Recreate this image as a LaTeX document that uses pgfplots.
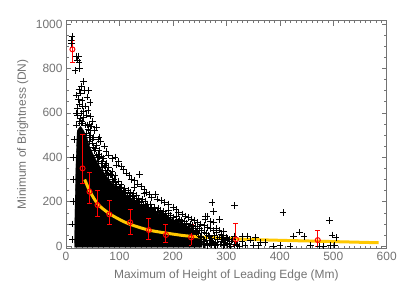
\documentclass[border=0pt]{standalone}
\usepackage{pgfplots}
\pgfplotsset{compat=1.18}
\usepackage{fontspec}
\setmainfont{Liberation Sans}
\definecolor{axgray}{gray}{0.45}
\definecolor{gold}{RGB}{255,200,0}
\begin{document}
\begin{tikzpicture}[font=\fontsize{12}{14}\selectfont]
\begin{axis}[
  scale only axis, width=320.7bp, height=227.6bp,
  at={(0,0)}, anchor=south west,
  xmin=0, xmax=600, ymin=-10, ymax=1015,
  xtick={0,100,...,600}, ytick={0,200,...,1000},
  minor x tick num=9, minor y tick num=3,
  tick align=inside, major tick length=5bp, minor tick length=2.5bp,
  axis line style={axgray, line width=0.6bp},
  every tick/.style={axgray, line width=0.5bp},
  tick label style={axgray, font=\fontsize{12}{14}\selectfont},
  /pgf/number format/assume math mode=true,
  /pgf/number format/1000 sep={},
  scaled ticks=false,
  xlabel={Maximum of Height of Leading Edge (Mm)},
  ylabel={Minimum of Brightness (DN)},
  xlabel style={at={(rel axis cs:0.5,-0.117)}, anchor=center, axgray},
  ylabel style={at={(rel axis cs:-0.135,0.5)}, anchor=center, axgray},
]
% dense core of the scatter
\addplot[fill=black, draw=black, line width=0.3bp] coordinates {
(21,520) (27,540) (33,520) (39,490) (44,450) (51,412) (59,375) (69,338)
(81,298) (95,262) (110,235) (125,210) (145,181) (165,157) (185,135)
(205,115) (222,97) (235,80) (245,60) (252,40) (256,15) (254,-5)
(16,-5) (17,200) (19,400) (21,520)} -- cycle;
% individual events
\addplot[only marks, mark=+, mark size=3.3bp, mark options={line width=0.6bp}, black] table {
x y
9 925
11 945
10 912
19 853
23 856
21 838
25 800
17 790
24 828
33 740
24 706
39 672
45 647
21 620
33 607
27 690
30 655
36 630
25 640
41 610
28 600
22 590
38 590
46 585
57 533
62 492
50 560
44 550
32 580
26 575
53 520
48 540
35 700
29 720
20 680
23 660
42 700
31 630
19 600
24 560
20 545
29 555
30 560
36 545
41 525
38 510
45 490
43 470
49 480
51 445
53 430
56 410
58 398
63 402
61 380
66 372
67 356
71 360
74 342
76 330
79 318
83 322
86 300
88 290
92 285
95 270
99 262
101 252
104 246
108 238
111 244
114 230
118 222
121 228
125 214
128 208
131 200
134 196
137 202
141 188
144 184
147 176
150 180
154 170
157 165
161 160
164 156
168 150
171 154
174 144
178 138
181 142
184 132
188 128
191 124
195 120
198 114
201 118
204 108
208 104
211 110
214 98
218 94
221 100
224 86
228 82
231 90
234 76
238 72
241 66
244 60
248 56
251 46
254 40
257 30
259 22
262 14
258 6
265 3
268 10
240 5
246 12
256 8
262 25
272 10
280 18
284 6
290 22
296 4
302 14
306 8
286 40
278 48
298 28
40 545
46 520
44 500
52 490
50 465
57 455
55 440
62 430
60 415
66 405
70 395
68 380
75 375
73 362
80 355
78 340
86 335
84 320
92 318
90 300
97 292
95 280
103 278
102 265
110 262
108 250
116 250
120 240
126 236
124 225
132 228
136 215
142 210
140 198
148 200
152 190
158 188
160 176
166 175
172 168
176 160
182 155
186 146
192 148
196 138
200 130
206 132
212 122
216 115
222 112
226 104
232 100
236 92
242 90
246 82
250 78
254 70
258 64
262 58
266 50
268 42
272 36
270 28
274 22
276 14
278 8
272 4
280 2
60 480
65 470
72 450
75 425
80 410
86 395
92 402
98 380
94 365
104 360
108 345
112 330
118 318
122 300
128 295
137 323
134 280
140 270
146 255
127 263
150 240
156 232
167 232
146 237
160 220
170 212
178 205
184 195
192 190
200 175
192 162
206 165
210 150
218 145
224 135
228 128
234 122
240 115
246 105
252 100
258 92
264 85
260 120
270 80
276 70
282 62
286 72
290 55
295 48
300 40
305 30
310 22
296 15
288 10
302 6
314 8
294 2
308 0
320 2
283 30
292 30
301 35
295 65
281 80
276 108
270 110
287 120
264 132
261 135
276 155
273 195
315 182
406 152
493 114
437 63
426 46
445 42
498 50
505 38
340 46
345 27
329 20
355 38
364 15
372 15
388 0
400 2
419 0
457 5
474 0
482 0
494 3
502 4
314 46
325 0
335 5
350 5
360 2
330 45
318 10
312 30
13 400
14 300
13 200
12 100
12 30
15 480
};
% fitted curve
\addplot[gold, line width=3bp, smooth] coordinates {
(35,300) (45,245) (60,188) (80,148) (100,120) (120,98) (155,72)
(200,54) (235,44) (320,32) (400,26) (470,22) (585,15)};
% binned means with error bars
\addplot[red, only marks, mark=o, mark size=2.5bp, line width=1bp,
  error bars/.cd, y dir=both, y explicit,
  error bar style={red, line width=1bp},
  error mark options={rotate=90, mark size=2.5bp, red, line width=1bp}]
coordinates {
(12,886) += (0,39) -= (0,60)
(31,350) += (0,153) -= (0,68)
(44,245) += (0,87) -= (0,53)
(59,185) += (0,65) -= (0,50)
(81,143) += (0,64) -= (0,45)
(120,107) += (0,58) -= (0,54)
(155,72) += (0,53) -= (0,42)
(187,50) += (0,49) -= (0,35)
(234,39) += (0,56) -= (0,35)
(318,30) += (0,72) -= (0,27)
(471,27) += (0,42) -= (0,27)
};
\end{axis}
\path (-66bp,-42.7bp) rectangle (341bp,248.3bp);
\end{tikzpicture}
\end{document}
